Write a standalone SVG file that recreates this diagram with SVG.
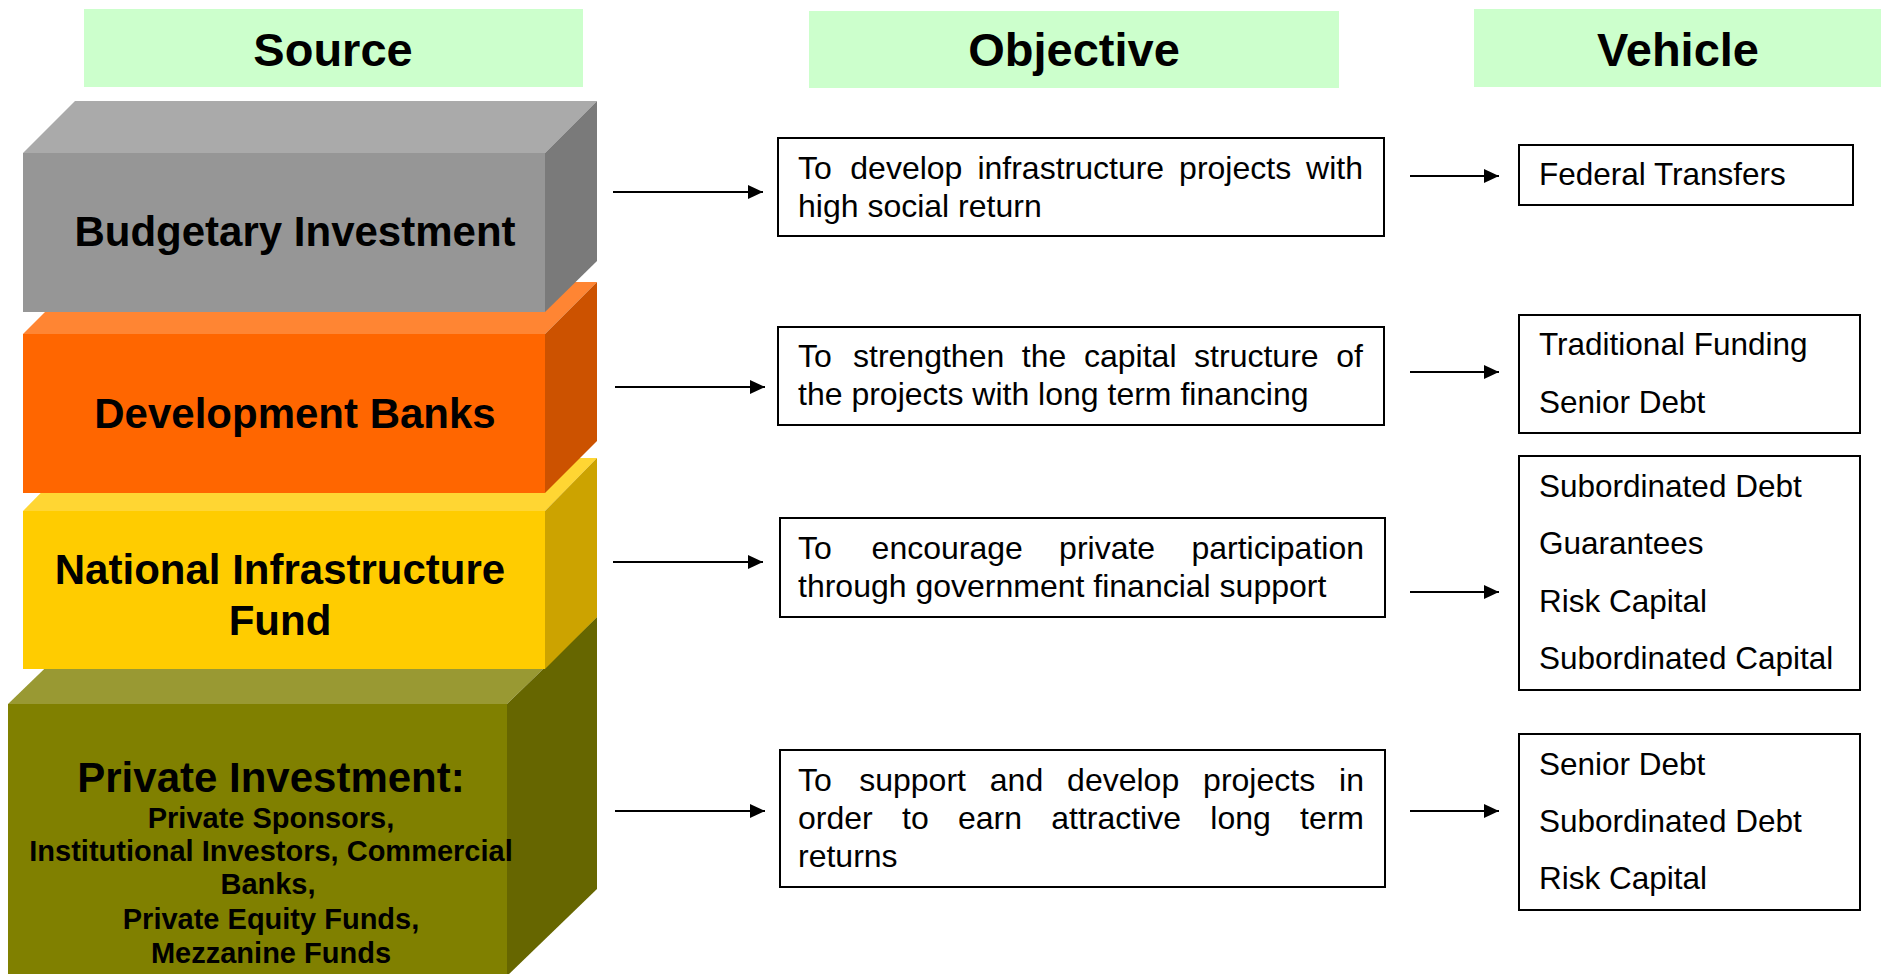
<svg xmlns="http://www.w3.org/2000/svg" width="1881" height="974" viewBox="0 0 1881 974">
<defs>
<style>
.hdr{fill:#CCFFCC}
.htx{font-family:"Liberation Sans",Arial,sans-serif;font-weight:bold;font-size:47px;fill:#000;text-anchor:middle}
.btx{font-family:"Liberation Sans",Arial,sans-serif;font-weight:bold;font-size:42px;fill:#000;text-anchor:middle}
.stx{font-family:"Liberation Sans",Arial,sans-serif;font-weight:bold;font-size:29px;fill:#000;text-anchor:middle}
.box{fill:#fff;stroke:#000;stroke-width:2}
.otx{font-family:"Liberation Sans",Arial,sans-serif;font-size:32px;fill:#000}
.vtx{font-family:"Liberation Sans",Arial,sans-serif;font-size:31.5px;fill:#000}
.end{text-anchor:end}
.con{stroke:#000;stroke-width:2;fill:none;marker-end:url(#ah)}
</style>
<marker id="ah" markerUnits="userSpaceOnUse" markerWidth="16" markerHeight="14" refX="15" refY="7" orient="auto">
<path d="M0,0 L15,7 L0,14 z" fill="#000"/>
</marker>
</defs>
<rect width="1881" height="974" fill="#fff"/>

<g id="header-source"><rect class="hdr" x="84" y="9" width="499" height="78"/><text class="htx" x="333" y="66">Source</text></g>
<g id="header-objective"><rect class="hdr" x="809" y="11" width="530" height="77"/><text class="htx" x="1074" y="66">Objective</text></g>
<g id="header-vehicle"><rect class="hdr" x="1474" y="9" width="407" height="78"/><text class="htx" x="1678" y="66">Vehicle</text></g>

<g id="source-private">
<polygon points="8,704 98,617 597,617 507,704" fill="#999933"/>
<polygon points="507,704 597,617 597,889 507,976" fill="#666600"/>
<rect x="8" y="704" width="499" height="272" fill="#808000"/>
<text class="btx" x="271" y="792">Private Investment:</text>
<text class="stx" x="271" y="828">Private Sponsors,</text>
<text class="stx" x="271" y="861">Institutional Investors, Commercial</text>
<text class="stx" x="268" y="894">Banks,</text>
<text class="stx" x="271" y="929">Private Equity Funds,</text>
<text class="stx" x="271" y="963">Mezzanine Funds</text>
</g>
<g id="source-fund">
<polygon points="23,511 75,458 597,458 545,511" fill="#FFD633"/>
<polygon points="545,511 597,458 597,617 545,669" fill="#CCA300"/>
<rect x="23" y="511" width="522" height="158" fill="#FFCC00"/>
<text class="btx" x="280" y="584">National Infrastructure</text>
<text class="btx" x="280" y="635">Fund</text>
</g>
<g id="source-devbanks">
<polygon points="23,334 75,282 597,282 545,334" fill="#FF8533"/>
<polygon points="545,334 597,282 597,441 545,493" fill="#CC5200"/>
<rect x="23" y="334" width="522" height="159" fill="#FF6600"/>
<text class="btx" x="295" y="428">Development Banks</text>
</g>
<g id="source-budgetary">
<polygon points="23,153 75,101 597,101 545,153" fill="#AAAAAA"/>
<polygon points="545,153 597,101 597,261 545,312" fill="#7A7A7A"/>
<rect x="23" y="153" width="522" height="159" fill="#969696"/>
<text class="btx" x="295" y="246">Budgetary Investment</text>
</g>

<g id="objective-1">
<rect class="box" x="778" y="138" width="606" height="98"/>
<text class="otx" y="179"><tspan x="798">To</tspan><tspan x="850.3">develop</tspan><tspan x="977.4">infrastructure</tspan><tspan x="1179.1">projects</tspan><tspan x="1363" class="end">with</tspan></text>
<text class="otx" x="798" y="217">high social return</text>
</g>
<g id="objective-2">
<rect class="box" x="778" y="327" width="606" height="98"/>
<text class="otx" y="367"><tspan x="798">To</tspan><tspan x="853">strengthen</tspan><tspan x="1021.8">the</tspan><tspan x="1084">capital</tspan><tspan x="1194.1">structure</tspan><tspan x="1363" class="end">of</tspan></text>
<text class="otx" x="798" y="405">the projects with long term financing</text>
</g>
<g id="objective-3">
<rect class="box" x="780" y="518" width="605" height="99"/>
<text class="otx" y="559"><tspan x="798">To</tspan><tspan x="871.6">encourage</tspan><tspan x="1059.1">private</tspan><tspan x="1364" class="end">participation</tspan></text>
<text class="otx" x="798" y="597">through government financial support</text>
</g>
<g id="objective-4">
<rect class="box" x="780" y="750" width="605" height="137"/>
<text class="otx" y="791"><tspan x="798">To</tspan><tspan x="859.2">support</tspan><tspan x="989.8">and</tspan><tspan x="1067.1">develop</tspan><tspan x="1203.1">projects</tspan><tspan x="1364" class="end">in</tspan></text>
<text class="otx" y="829"><tspan x="798">order</tspan><tspan x="902">to</tspan><tspan x="957.9">earn</tspan><tspan x="1051.2">attractive</tspan><tspan x="1210.3">long</tspan><tspan x="1364" class="end">term</tspan></text>
<text class="otx" x="798" y="867">returns</text>
</g>

<g id="vehicle-1">
<rect class="box" x="1519" y="145" width="334" height="60"/>
<text class="vtx" x="1539" y="185">Federal Transfers</text>
</g>
<g id="vehicle-2">
<rect class="box" x="1519" y="315" width="341" height="118"/>
<text class="vtx" x="1539" y="355">Traditional Funding</text>
<text class="vtx" x="1539" y="413">Senior Debt</text>
</g>
<g id="vehicle-3">
<rect class="box" x="1519" y="456" width="341" height="234"/>
<text class="vtx" x="1539" y="497">Subordinated Debt</text>
<text class="vtx" x="1539" y="554">Guarantees</text>
<text class="vtx" x="1539" y="612">Risk Capital</text>
<text class="vtx" x="1539" y="669">Subordinated Capital</text>
</g>
<g id="vehicle-4">
<rect class="box" x="1519" y="734" width="341" height="176"/>
<text class="vtx" x="1539" y="775">Senior Debt</text>
<text class="vtx" x="1539" y="832">Subordinated Debt</text>
<text class="vtx" x="1539" y="889">Risk Capital</text>
</g>

<g id="connectors">
<line class="con" x1="613" y1="192" x2="763" y2="192"/>
<line class="con" x1="615" y1="387" x2="765" y2="387"/>
<line class="con" x1="613" y1="562" x2="763" y2="562"/>
<line class="con" x1="615" y1="811" x2="765" y2="811"/>
<line class="con" x1="1410" y1="176" x2="1499" y2="176"/>
<line class="con" x1="1410" y1="372" x2="1499" y2="372"/>
<line class="con" x1="1410" y1="592" x2="1499" y2="592"/>
<line class="con" x1="1410" y1="811" x2="1499" y2="811"/>
</g>
</svg>
